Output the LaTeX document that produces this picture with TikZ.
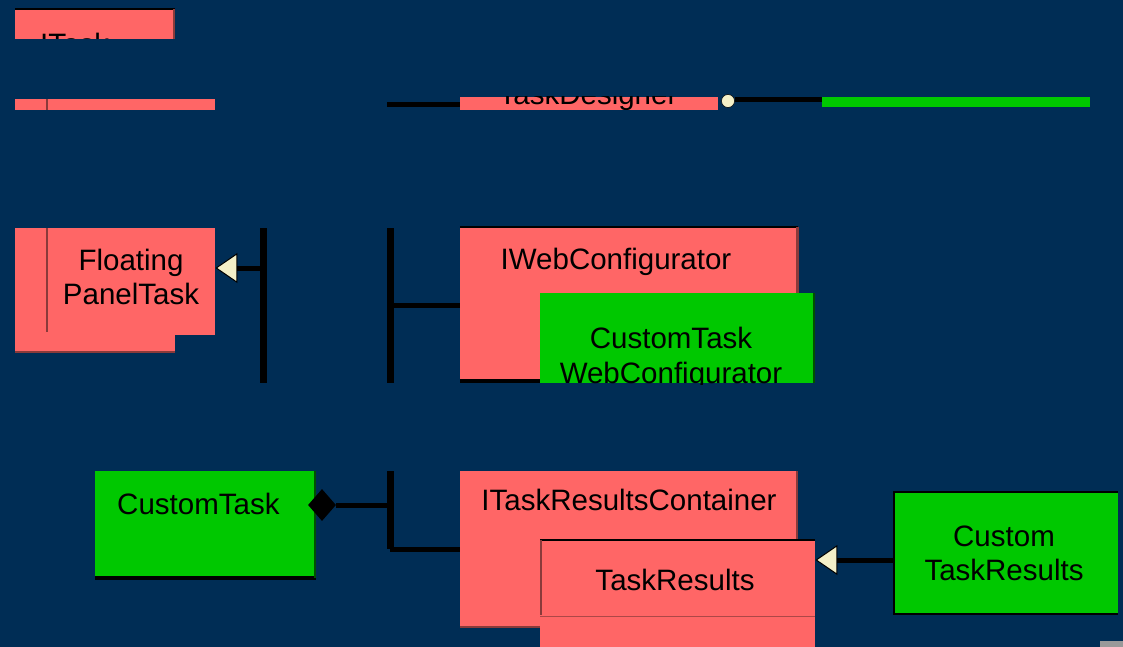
\documentclass[tikz,border=0pt]{standalone}
\usepackage{fontspec}
\setmainfont{Liberation Sans}
\usetikzlibrary{arrows.meta,shapes.geometric}
\definecolor{bg}{HTML}{002D55}
\definecolor{pinkbox}{HTML}{FF6666}
\definecolor{greenbox}{HTML}{00C800}
\definecolor{pinkedge}{HTML}{8A3A3A}
\definecolor{cream}{HTML}{F4F0C8}
\tikzset{
  pinkrect/.style={fill=pinkbox, draw=none, inner sep=0pt, anchor=north west},
  greenrect/.style={fill=greenbox, draw=none, inner sep=0pt, anchor=north west},
  lbl/.style={font=\fontsize{29.5}{34}\selectfont, text=black, align=center, inner sep=0pt},
  conn/.style={draw=black, line width=5pt},
  bar/.style={draw=black, line width=7pt},
  hollowtip/.style={-{Triangle[width=30pt,length=22pt,fill=cream,line width=1pt]}},
}
\begin{document}
\begin{tikzpicture}[x=1pt,y=-1pt]
\fill[bg] (0,0) rectangle (1123,647);
\useasboundingbox (0,0) rectangle (1123,647);

% ITask (cut off)
\node[pinkrect, minimum width=160pt, minimum height=31pt] (itask) at (15,8) {};
\draw[black, line width=2pt] (15,9) -- (175,9);
\draw[pinkedge, line width=2pt] (174,9) -- (174,39);
\begin{scope}
\clip (15,8) rectangle (175,39);
\node[lbl, anchor=base west] (itasklbl) at (40,55) {ITask};
\end{scope}

% thin pink strip left
\node[pinkrect, minimum width=200pt, minimum height=11pt] (strip) at (15,99) {};
\draw[pinkedge, line width=1.5pt] (47,99) -- (47,110);

% TaskDesigner strip
\node[pinkrect, minimum width=258pt, minimum height=13pt] (tdes) at (460,97) {};
\begin{scope}
\clip (460,97) rectangle (718,110);
\node[lbl, anchor=base] (tdeslbl) at (588,105) {TaskDesigner};
\end{scope}
\node[greenrect, minimum width=268pt, minimum height=10pt] (tgreen) at (822,97) {};
\coordinate (tl) at (387,105);
\coordinate (tr0) at (735,100);
\draw[conn] (tl) -- (tdes.west |- tl);
\draw[conn] (tr0) -- (tgreen.west |- tr0);
\node[circle, fill=cream, draw=black, line width=0.5pt, minimum size=13pt, inner sep=0pt] (tcirc) at (728,101) {};

% FloatingPanelTask
\node[pinkrect, minimum width=200pt, minimum height=107pt] (fpt) at (15,228) {};
\fill[pinkbox] (15,335) rectangle (175,352);
\draw[pinkedge, line width=2pt] (15,352) -- (175,352);
\draw[pinkedge, line width=2pt] (47,228) -- (47,332);
\node[lbl] (fptlbl) at (131,277) {Floating\\PanelTask};

% bars
\coordinate (b1t) at (263,228);
\coordinate (b1b) at (263,383);
\coordinate (b2t) at (390,228);
\coordinate (b2b) at (390,383);
\draw[bar] (b1t) -- (b1b);
\draw[bar] (b2t) -- (b2b);
\coordinate (b1m) at (263,268);
\draw[conn, hollowtip] (b1m) -- (fpt.east |- b1m);

% IWebConfigurator
\node[pinkrect, minimum width=338pt, minimum height=155pt] (iweb) at (460,226) {};
\draw[black, line width=2.5pt] (460,227) -- (798,227);
\draw[pinkedge, line width=3pt] (797,227) -- (797,381);
\draw[black, line width=4pt] (460,381) -- (540,381);
\node[lbl, anchor=base] (iweblbl) at (616,269) {IWebConfigurator};
\coordinate (b2m) at (390,305);
\draw[conn] (b2m) -- (iweb.west |- b2m);

\node[greenrect, minimum width=275pt, minimum height=90pt] (ctwc) at (540,293) {};
\draw[black!60!greenbox, line width=2pt] (814,293) -- (814,383);
\begin{scope}
\clip (540,293) rectangle (815,384);
\node[lbl, anchor=base] (ctwclbl1) at (671,348) {CustomTask};
\node[lbl, anchor=base] (ctwclbl2) at (671,383) {WebConfigurator};
\end{scope}

% CustomTask
\node[greenrect, minimum width=221pt, minimum height=107pt] (ct) at (95,471) {};
\draw[black, line width=4pt] (95,578) -- (316,578);
\draw[black!60!greenbox, line width=2pt] (315,471) -- (315,578);
\node[lbl, anchor=base west] (ctlbl) at (117,514) {CustomTask};
\node[diamond, fill=black, minimum width=28pt, minimum height=32pt, inner sep=0pt] (dia) at (322,505) {};
\coordinate (b3t) at (390,471);
\coordinate (b3b) at (390,549);
\draw[bar] (b3t) -- (b3b);
\draw[conn] (dia.east) -- (b3t |- dia.east);

% ITaskResultsContainer
\node[pinkrect, minimum width=338pt, minimum height=148pt] (itrc) at (460,471) {};
\fill[pinkbox] (460,619) rectangle (540,628);
\draw[pinkedge, line width=2pt] (797,471) -- (797,540);
\draw[pinkedge, line width=2pt] (460,627) -- (540,627);
\node[lbl, anchor=base] (itrclbl) at (629,510) {ITaskResultsContainer};
\draw[conn] (b3b) -- (itrc.west |- b3b);

% TaskResults
\node[pinkrect, minimum width=275pt, minimum height=108pt] (tr) at (540,539) {};
\draw[black, line width=2.5pt] (540,540) -- (815,540);
\draw[pinkedge, line width=2pt] (541,540) -- (541,615);
\draw[pinkedge!70!pinkbox, line width=1pt] (540,616) -- (815,616);
\node[lbl, anchor=base] (trlbl) at (675,590) {TaskResults};

% CustomTaskResults
\node[greenrect, minimum width=225pt, minimum height=124pt] (ctr) at (893,491) {};
\draw[black, line width=2pt] (893,492) -- (1118,492);
\draw[black, line width=2pt] (893,614) -- (1118,614);
\draw[black, line width=1.5pt] (894,491) -- (894,615);
\node[lbl] (ctrlbl) at (1004,553) {Custom\\TaskResults};
\draw[conn, hollowtip] (ctr.west |- 0,560) -- (tr.east |- 0,560);

% tiny mark bottom right
\fill[black!40] (1100,641) rectangle (1123,647);
\end{tikzpicture}
\end{document}
